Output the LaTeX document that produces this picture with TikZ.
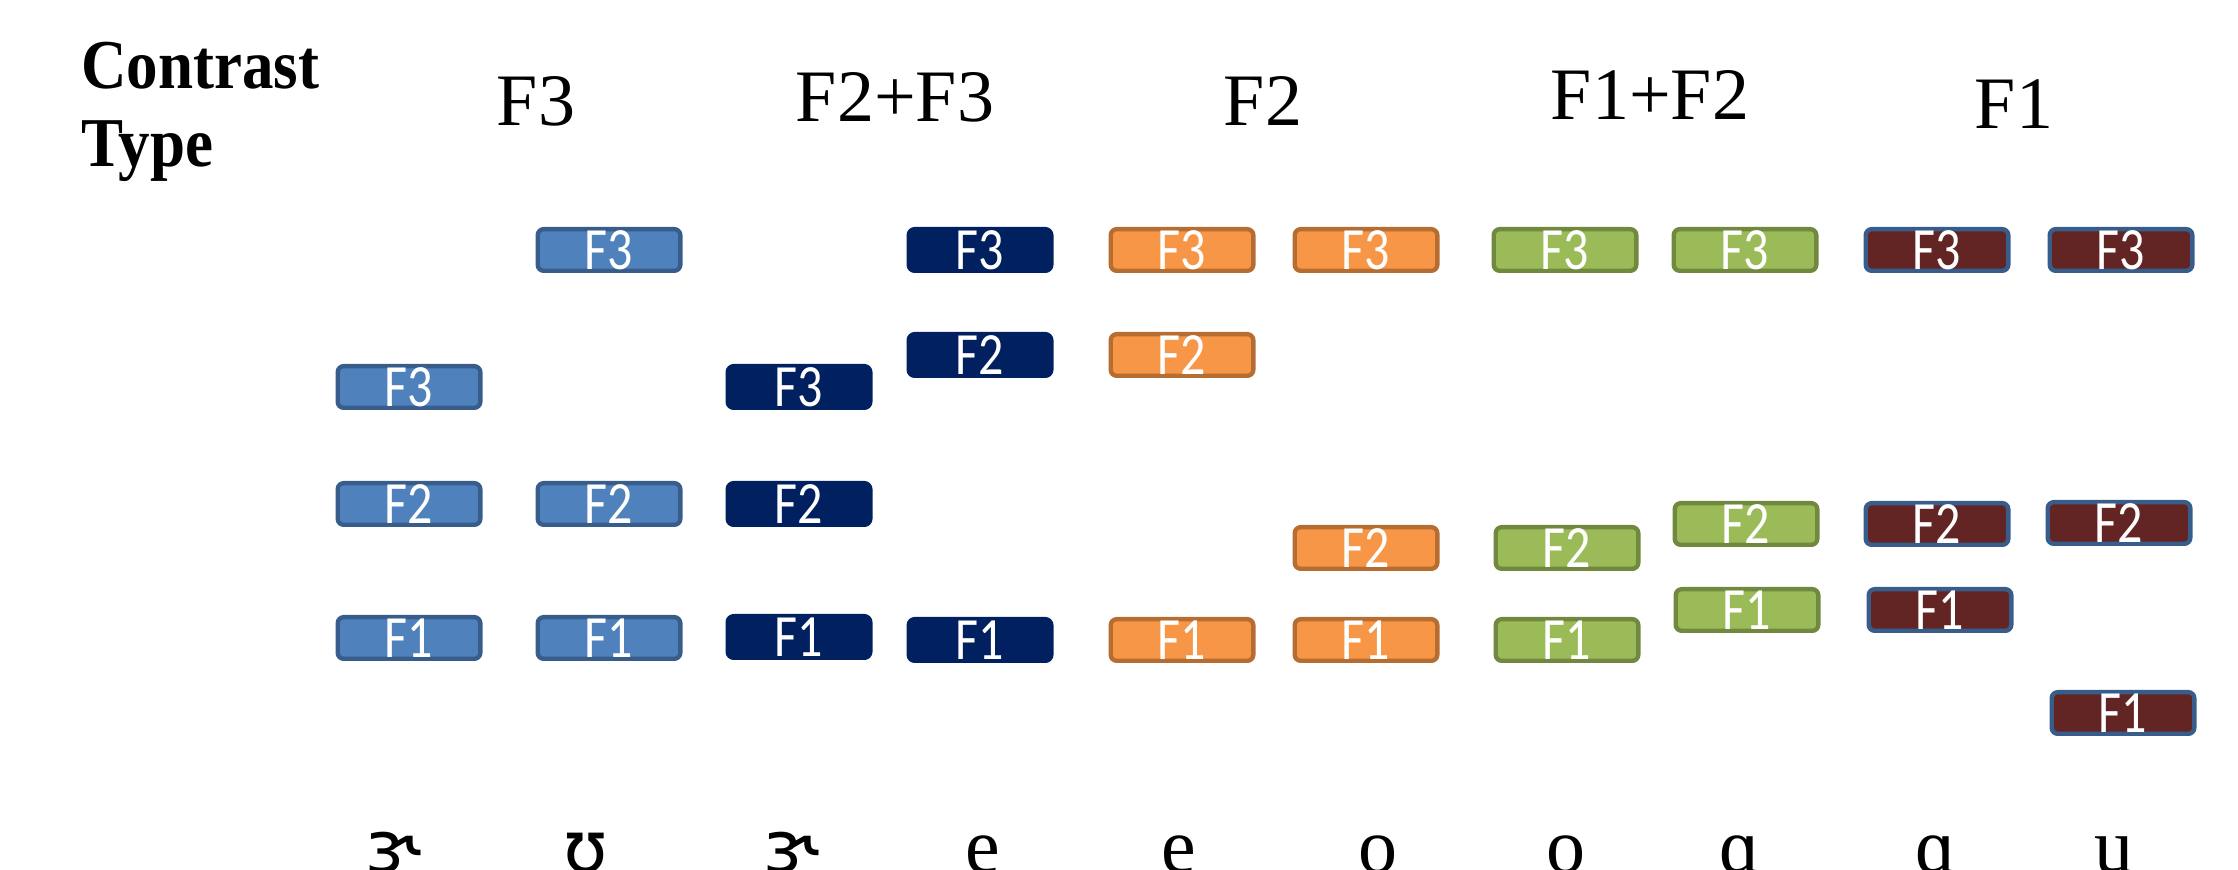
\documentclass[tikz,border=0pt]{standalone}
\usepackage{fontspec}
\setmainfont{Liberation Serif}
\newfontfamily\boxfont{Carlito}
\newfontfamily\ipasans{DejaVu Sans}
\begin{document}
\begin{tikzpicture}[x=0.5pt,y=-0.5pt,
  fbox/.style={rounded corners=3pt, line width=2.2pt, minimum width=71.3pt, minimum height=20.8pt,
     inner sep=0pt, text=white, font=\boxfont\fontsize{25}{25}\selectfont},
  bluebox/.style={fbox, fill=lblue, draw=lblueborder},
  navybox/.style={fbox, fill=navy, draw=navy},
  orangebox/.style={fbox, fill=orng, draw=orngborder},
  greenbox/.style={fbox, fill=grn, draw=grnborder},
  maroonbox/.style={fbox, fill=maroon, draw=lblueborder},
  header/.style={anchor=base, inner sep=0pt, font=\fontsize{37}{44}\selectfont},
  ipa/.style={anchor=base, inner sep=0pt, font=\fontsize{39}{44}\selectfont},
  ipab/.style={anchor=base, inner sep=0pt, font=\ipasans\fontsize{36}{44}\selectfont},
  title/.style={anchor=base west, inner sep=0pt, font=\bfseries\fontsize{35}{40}\selectfont}
]
\definecolor{lblue}{HTML}{4F81BD}
\definecolor{lblueborder}{HTML}{385D8A}
\definecolor{navy}{HTML}{002060}
\definecolor{orng}{HTML}{F79646}
\definecolor{orngborder}{HTML}{B66D31}
\definecolor{grn}{HTML}{9BBB59}
\definecolor{grnborder}{HTML}{71893F}
\definecolor{maroon}{HTML}{632523}
\newcommand{\bt}[1]{\scalebox{1}[1.2]{#1}}
\useasboundingbox (0,0) rectangle (2238,870);
\clip (0,0) rectangle (2238,870);

% title
\node[title] (t1) at (81,89) {\scalebox{0.9}[1]{Contrast}};
\node[title] (t2) at (81,167) {\scalebox{0.9}[1]{Type}};

% headers
\node[header] (h1) at (536,126) {F3};
\node[header] (h2) at (895,122) {F2+F3};
\node[header] (h3) at (1263,126) {F2};
\node[header] (h4) at (1650,120) {F1+F2};
\node[header] (h5) at (2014,129) {F1};

% column 1
\node[bluebox] (c1f3) at (409,387) {\bt{F3}};
\node[bluebox] (c1f2) at (409,504) {\bt{F2}};
\node[bluebox] (c1f1) at (409,638) {\bt{F1}};
% column 2
\node[bluebox] (c2f3) at (609,250) {\bt{F3}};
\node[bluebox] (c2f2) at (609,504) {\bt{F2}};
\node[bluebox] (c2f1) at (609,638) {\bt{F1}};
% column 3
\node[navybox] (c3f3) at (799,387) {\bt{F3}};
\node[navybox] (c3f2) at (799,504) {\bt{F2}};
\node[navybox] (c3f1) at (799,637) {\bt{F1}};
% column 4
\node[navybox] (c4f3) at (980,250) {\bt{F3}};
\node[navybox] (c4f2) at (980,355) {\bt{F2}};
\node[navybox] (c4f1) at (980,640) {\bt{F1}};
% column 5
\node[orangebox] (c5f3) at (1182,250) {\bt{F3}};
\node[orangebox] (c5f2) at (1182,355) {\bt{F2}};
\node[orangebox] (c5f1) at (1182,640) {\bt{F1}};
% column 6
\node[orangebox] (c6f3) at (1366,250) {\bt{F3}};
\node[orangebox] (c6f2) at (1366,548) {\bt{F2}};
\node[orangebox] (c6f1) at (1366,640) {\bt{F1}};
% column 7
\node[greenbox] (c7f3) at (1565,250) {\bt{F3}};
\node[greenbox] (c7f2) at (1567,548) {\bt{F2}};
\node[greenbox] (c7f1) at (1567,640) {\bt{F1}};
% column 8
\node[greenbox] (c8f3) at (1745,250) {\bt{F3}};
\node[greenbox] (c8f2) at (1746,524) {\bt{F2}};
\node[greenbox] (c8f1) at (1747,610) {\bt{F1}};
% column 9
\node[maroonbox] (c9f3) at (1937,250) {\bt{F3}};
\node[maroonbox] (c9f2) at (1937,524) {\bt{F2}};
\node[maroonbox] (c9f1) at (1940,610) {\bt{F1}};
% column 10
\node[maroonbox] (c10f3) at (2121,250) {\bt{F3}};
\node[maroonbox] (c10f2) at (2119,523) {\bt{F2}};
\node[maroonbox] (c10f1) at (2123,713) {\bt{F1}};

% vowels
\node[ipab] (v1) at (393,872) {ɝ};
\node[ipab] (v2) at (586,872) {ʊ};
\node[ipab] (v3) at (791,872) {ɝ};
\node[ipa] (v4) at (983,872) {e};
\node[ipa] (v5) at (1179,872) {e};
\node[ipa] (v6) at (1378,872) {o};
\node[ipa] (v7) at (1566,872) {o};
\node[ipa] (v8) at (1740,872) {ɑ};
\node[ipa] (v9) at (1936,872) {ɑ};
\node[ipa] (v10) at (2114,872) {u};
\end{tikzpicture}
\end{document}
